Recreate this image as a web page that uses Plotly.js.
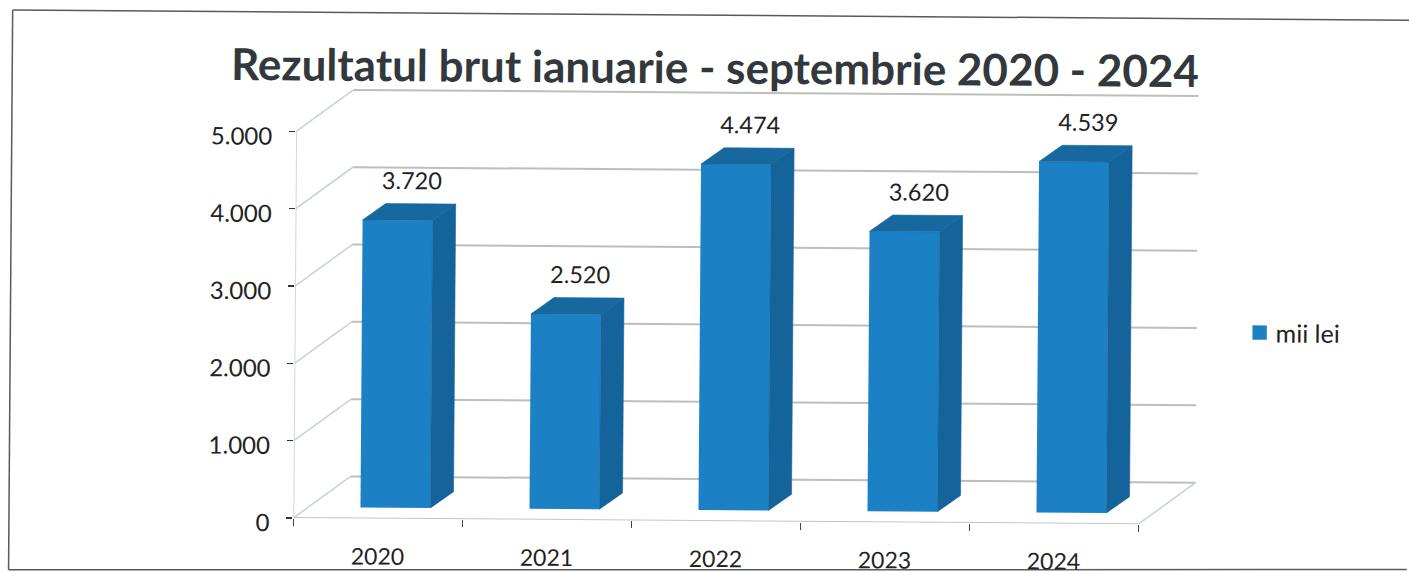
<!DOCTYPE html>
<html><head><meta charset="utf-8">
<script src="https://cdn.plot.ly/plotly-3.0.1.min.js"></script>
<style>
html,body{margin:0;padding:0;background:#fff;overflow:hidden;width:1409px;height:572px}
#chart{width:1409px;height:600px;transform:rotate(0.42deg);transform-origin:704px 286px}
</style></head><body><div id="chart"></div>
<script>
const categories = ["2020","2021","2022","2023","2024"];
const values = [3720,2520,4474,3620,4539];
const valueLabels = ["3.720","2.520","4.474","3.620","4.539"];
const yTicks = [0,1000,2000,3000,4000,5000];
const yTickLabels = ["0","1.000","2.000","3.000","4.000","5.000"];
const seriesName = "mii lei";

(function(){
const W=1409,H=600,L=294.5,T=88,B=521.5,PR=1202;
const pxPerCat=169.1, pxPerVal=387/5000;
const xMin=-0.5, xMax=xMin+(PR-L)/pxPerCat, yMax=(B-T)/pxPerVal;
const cx=p=>p/pxPerCat, cy=p=>p/pxPerVal;
const idx=categories.map((_,i)=>i);
const barW=cx(70), barShift=cx(17.6), barBase=cy(11);
const depthX=cx(23), depthY=cy(16.5);
const wallX=cx(57), wallY=cy(42);
const lastX=categories.length-0.5;

const gridShapes=[];
const seg=(x0,y0,x1,y1,color,width)=>gridShapes.push({type:'line',layer:'below',xref:'x',yref:'y',x0,y0,x1,y1,line:{color,width}});
yTicks.forEach(t=>{
  seg(xMin,t,xMin+wallX,t+wallY,'#c9d4d5',1.6);
  seg(xMin+wallX,t+wallY,lastX+wallX,t+wallY,'#bcbfbc',2);
});
seg(xMin,0,xMin,5000,'#d2d8d9',2);
seg(xMin,0,lastX,0,'#c4c7c7',2);
seg(lastX,0,lastX+wallX,wallY,'#c9d4d5',1.6);
// outer frame of the scan
const fx=p=>(p-L)/(PR-L), fy=p=>1-(p-T)/(B-T);
[[10,15,1500,15],[10,15,10,575.4],[10,575.4,1409,565]].forEach(s=>gridShapes.push({type:'line',layer:'below',xref:'paper',yref:'paper',
  x0:fx(s[0]),y0:fy(s[1]),x1:fx(s[2]),y1:fy(s[3]),line:{color:'#5a5a5a',width:1.5}}));

const leftOf=i=>i+barShift-barW/2, rightOf=i=>i+barShift+barW/2, topOf=i=>barBase+values[i];
const sideX=[],sideY=[],topX=[],topY=[];
idx.forEach(i=>{
  sideX.push(rightOf(i),rightOf(i)+depthX,rightOf(i)+depthX,rightOf(i),rightOf(i),null);
  sideY.push(barBase,barBase+depthY,topOf(i)+depthY,topOf(i),barBase,null);
  topX.push(leftOf(i),leftOf(i)+depthX,rightOf(i)+depthX,rightOf(i),leftOf(i),null);
  topY.push(topOf(i),topOf(i)+depthY,topOf(i)+depthY,topOf(i),topOf(i),null);
});
const font={family:'Lato, sans-serif',color:'#222'};
const traces=[
 {type:'bar',name:seriesName,x:idx,y:values,base:idx.map(()=>barBase),width:barW,offset:barShift-barW/2,
  marker:{color:'#1c80c5',line:{width:0}},showlegend:true,hoverinfo:'skip'},
 {type:'scatter',mode:'lines',x:sideX,y:sideY,fill:'toself',fillcolor:'#14639b',line:{width:0.6,color:'#14639b'},showlegend:false,hoverinfo:'skip'},
 {type:'scatter',mode:'lines',x:topX,y:topY,fill:'toself',fillcolor:'#16689f',line:{width:0.6,color:'#16689f'},showlegend:false,hoverinfo:'skip'},
 {type:'scatter',mode:'text',x:idx.map(i=>i+barShift+cx(14)),y:idx.map(i=>topOf(i)+cy(37)),text:valueLabels,
  textposition:'middle center',textfont:{family:font.family,size:23.5,color:'#222'},showlegend:false,hoverinfo:'skip',cliponaxis:false}
];
const layout={
 width:W,height:H,paper_bgcolor:'rgba(0,0,0,0)',plot_bgcolor:'rgba(0,0,0,0)',
 margin:{l:L,r:W-PR,t:T,b:H-B,pad:0},
 title:{text:"Rezultatul brut ianuarie - septembrie 2020 - 2024",font:{family:font.family,size:44,weight:700,color:'#33383c'},
   x:713.4/W,xanchor:'center',xref:'container',y:1-68/H,yanchor:'middle',yref:'container'},
 xaxis:{range:[xMin,xMax],tickmode:'array',tickvals:idx,ticktext:categories,ticks:'',showgrid:false,zeroline:false,showline:false,
   tickfont:{family:font.family,size:23,color:'#222'},ticklabelstandoff:22,
   minor:{tickmode:'array',tickvals:idx.concat([categories.length]).map(i=>i-0.5),ticks:'outside',ticklen:7,tickcolor:'#444',tickwidth:1.2,showgrid:false}},
 yaxis:{range:[0,yMax],tickmode:'array',tickvals:yTicks,ticktext:yTickLabels,ticks:'outside',ticklen:6,tickcolor:'#333',tickwidth:1.5,
   showgrid:false,zeroline:false,showline:false,tickfont:{family:font.family,size:24,color:'#222'},ticklabelstandoff:12,ticklabelshift:5},
 shapes:gridShapes,
 legend:{x:(1236-L)/(PR-L),xanchor:'left',y:1-(306-T)/(B-T),yanchor:'top',font:{family:font.family,size:25,color:'#222'},bgcolor:'rgba(0,0,0,0)'},
 showlegend:true
};
Plotly.newPlot('chart',traces,layout,{displayModeBar:false,staticPlot:true}).then(gd=>{
  gd.querySelectorAll('.legendpoints path').forEach(p=>{
    const t=p.getAttribute('transform')||'';
    p.setAttribute('transform',t+' translate(4,0) scale(1.2)');
  });
});
})();
</script></body></html>
